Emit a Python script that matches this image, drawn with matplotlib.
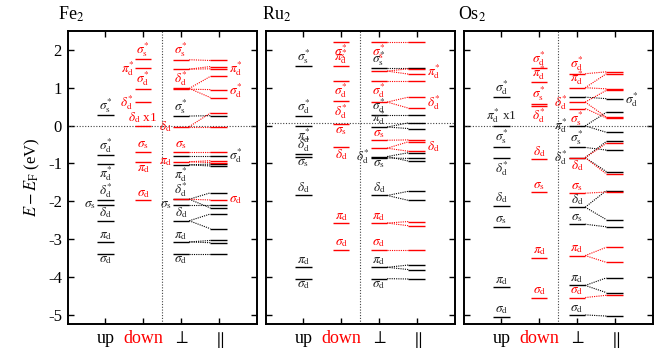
import matplotlib.pyplot as plt

plt.rcParams['font.family'] = 'serif'
plt.rcParams['font.serif'] = ['Liberation Serif', 'DejaVu Serif']
plt.rcParams['mathtext.fontset'] = 'stix'

RED = '#ff0000'
INK = '#222222'

titles = ['Fe$_2$', 'Ru$_2$', 'Os$_2$']
col_names = ['up', 'down', r'$\perp$', r'$\parallel$']
col_colors = ['black', RED, 'black', 'black']
y_ticks = [-5, -4, -3, -2, -1, 0, 1, 2]
fermi = [0.0, 0.06, 0.0]

# levels: (energy, label, where the label goes)
fe_up = [(0.27, 'ss*', 'a'), (-0.79, 'sd*', 'a'), (-1.02, 'pd*', 'b'), (-1.98, 'dd*', 'a'),
         (-2.10, 'ss', 'l'), (-2.52, 'dd', 'a'), (-3.08, 'pd', 'a'), (-3.40, 'sd', 'b')]
fe_down = [(1.76, 'ss*', 'a'), (1.52, 'pd*', 'l'), (0.97, 'sd*', 'a'), (0.62, 'dd*', 'l'),
           (0.0, 'dd x1', 'a'), (-0.69, 'ss', 'a'), (-0.97, 'pd', 'b'), (-1.98, 'sd', 'a')]
fe_perp_up = [(0.25, 'ss*', 'a'), (-0.80, '', ''), (-1.04, 'pd*', 'b'), (-1.95, 'dd*', 'a'),
              (-2.11, 'ss', 'l'), (-2.52, 'dd', 'a'), (-3.08, 'pd', 'a'), (-3.40, 'sd', 'b')]
fe_perp_dn = [(1.74, 'ss*', 'a'), (1.49, '', ''), (0.98, 'dd*', 'a'), (0.96, '', ''),
              (-0.03, 'dd', 'l'), (-0.69, 'ss', 'a'), (-0.96, 'pd', 'l'), (-1.95, '', '')]
# perp -> parallel splitting: (E_perp, E_par)
fe_link_up = [(0.25, 0.26), (-0.80, -0.80), (-1.04, -1.02), (-1.04, -1.07), (-1.95, -1.78),
              (-1.95, -2.18), (-2.11, -2.11), (-2.52, -2.34), (-2.52, -2.73), (-3.08, -3.04),
              (-3.08, -3.10), (-3.40, -3.40)]
fe_link_dn = [(1.74, 1.72), (1.49, 1.56), (1.49, 1.50), (0.98, 1.30), (0.98, 0.74), (0.96, 0.95),
              (-0.03, 0.33), (-0.03, -0.03), (-0.69, -0.69), (-0.96, -0.93), (-0.96, -0.98),
              (-1.95, -1.97)]
fe_par_tags = [(1.50, 'pd*', RED), (0.93, 'sd*', RED), (-0.80, 'sd*', INK), (-1.97, 'sd', RED)]

ru_up = [(1.57, 'ss*', 'a'), (0.25, 'sd*', 'a'), (0.0, 'pd*', 'b'), (-0.76, 'dd*', 'a'),
         (-0.83, 'ss', 'b'), (-1.85, 'dd', 'a'), (-3.75, 'pd', 'a'), (-4.05, 'sd', 'b')]
ru_down = [(2.22, 'ss*', 'b'), (1.57, 'pd*', 'a'), (1.19, 'sd*', 'b'), (0.64, 'dd*', 'b'),
           (0.03, 'ss', 'b'), (-0.56, 'dd', 'b'), (-2.58, 'pd', 'a'), (-3.28, 'sd', 'a')]
ru_perp_up = [(1.52, 'ss*', 'a'), (0.27, 'sd*', 'a'), (-0.04, 'pd*', 'a'), (-0.82, 'dd*', 'l'),
              (-0.86, 'ss', 'b'), (-1.85, 'dd', 'a'), (-3.75, 'pd', 'a'), (-4.05, 'sd', 'b')]
ru_perp_dn = [(2.20, 'ss*', 'b'), (1.44, '', ''), (1.18, 'sd*', 'b'), (0.62, '', ''),
              (-0.39, 'ss', 'a'), (-0.60, '', ''), (-2.58, 'pd', 'a'), (-3.28, 'sd', 'a')]
ru_link_up = [(1.52, 1.52), (0.27, 0.27), (-0.04, 0.07), (-0.04, -0.08), (-0.82, -0.72),
              (-0.82, -0.94), (-0.86, -0.87), (-1.85, -1.74), (-1.85, -1.98), (-3.75, -3.69),
              (-3.75, -3.81), (-4.05, -4.06)]
ru_link_dn = [(2.20, 2.20), (1.44, 1.50), (1.44, 1.36), (1.18, 1.18), (0.62, 0.75), (0.62, 0.46),
              (-0.39, -0.38), (-0.60, -0.43), (-0.60, -0.68), (-2.58, -2.54), (-2.58, -2.65),
              (-3.28, -3.28)]
ru_par_tags = [(1.42, 'pd*', RED), (0.60, 'dd*', RED), (-0.55, 'dd', RED)]

os_up = [(0.75, 'sd*', 'a'), (0.0, 'pd* x1', 'a'), (-0.56, 'ss*', 'a'), (-0.87, 'dd*', 'b'),
         (-2.12, 'dd', 'a'), (-2.68, 'ss', 'a'), (-4.27, 'pd', 'a'), (-5.06, 'sd', 'a')]
os_down = [(1.52, 'sd*', 'a'), (1.15, 'pd*', 'a'), (0.58, 'ss*', 'a'), (0.52, 'dd*', 'b'),
           (-0.89, 'dd', 'a'), (-1.77, 'ss', 'a'), (-3.50, 'pd', 'a'), (-4.55, 'sd', 'a')]
os_perp_up = [(0.75, '', ''), (-0.01, 'pd*', 'l'), (-0.58, 'ss*', 'a'), (-0.85, 'dd*', 'l'),
              (-2.16, 'dd', 'a'), (-2.61, 'ss', 'a'), (-4.23, 'pd', 'a'), (-5.01, 'sd', 'a')]
os_perp_dn = [(1.37, 'sd*', 'a'), (1.00, 'pd*', 'a'), (0.62, 'dd*', 'l'), (0.45, 'ss*', 'b'),
              (-0.85, 'dd', 'b'), (-1.79, 'ss', 'a'), (-3.44, 'pd', 'a'), (-4.55, 'sd', 'a')]
os_link_up = [(0.75, 0.71), (-0.01, 0.35), (-0.01, -0.18), (-0.58, -0.65), (-0.85, -0.42),
              (-0.85, -1.22), (-2.16, -1.72), (-2.16, -2.49), (-2.61, -2.68), (-4.23, -4.03),
              (-4.23, -4.42), (-5.01, -5.04)]
os_link_dn = [(1.37, 1.42), (1.00, 1.37), (1.00, 0.97), (0.62, 0.93), (0.62, 0.22), (0.45, 0.20),
              (-0.85, -0.47), (-0.85, -1.28), (-1.79, -1.76), (-3.44, -3.22), (-3.44, -3.62),
              (-4.55, -4.49)]
os_par_tags = [(0.70, 'sd*', INK)]

panels = [
    (fe_up, fe_down, fe_perp_up, fe_perp_dn, fe_link_up, fe_link_dn, fe_par_tags),
    (ru_up, ru_down, ru_perp_up, ru_perp_dn, ru_link_up, ru_link_dn, ru_par_tags),
    (os_up, os_down, os_perp_up, os_perp_dn, os_link_up, os_link_dn, os_par_tags),
]

GREEK = {'s': r'\sigma', 'p': r'\pi', 'd': r'\delta'}
HALF = 0.22


def label_text(code):
    extra = ''
    if ' ' in code:
        code, extra = code.split(' ', 1)
        extra = ' ' + extra
    star = '^{*}' if code.endswith('*') else ''
    return r'$%s_{\rm %s}%s$%s' % (GREEK[code[0]], code[1], star, extra)


def draw_level(ax, x, e, color):
    ax.plot([x - HALF, x + HALF], [e, e], color=color, lw=1.0, solid_capstyle='butt')


def draw_tag(ax, x, e, code, where, color):
    if not code:
        return
    txt = label_text(code)
    kw = dict(color=color, fontsize=9.5)
    if where == 'a':
        ax.text(x, e + 0.01, txt, ha='center', va='bottom', **kw)
    elif where == 'b':
        ax.text(x, e - 0.01, txt, ha='center', va='top', **kw)
    elif where == 'l':
        ax.text(x - HALF - 0.02, e, txt, ha='right', va='center', **kw)
    else:
        ax.text(x + HALF + 0.05, e, txt, ha='left', va='center', **kw)


fig = plt.figure(figsize=(6.59, 3.5), dpi=100)
lefts = [67.5, 265.5, 463.5]
title_dx = [-0.05, -0.02, -0.03]

for i, (up, down, pu, pd, lu, ld, tags) in enumerate(panels):
    ax = fig.add_axes([lefts[i] / 659, 26 / 350, 189 / 659, 293 / 350])

    ax.axhline(fermi[i], color='#444444', lw=0.8, ls=(0, (1, 1.5)))
    ax.axvline(2.5, color='#444444', lw=0.8, ls=(0, (1, 1.5)))

    for e, code, where in up:
        draw_level(ax, 1, e, 'black')
        draw_tag(ax, 1, e, code, where, INK)
    for e, code, where in down:
        draw_level(ax, 2, e, RED)
        draw_tag(ax, 2, e, code, where, RED)
    for e, code, where in pu:
        draw_level(ax, 3, e, 'black')
        draw_tag(ax, 3, e, code, where, INK)
    for e, code, where in pd:
        draw_level(ax, 3, e, RED)
        draw_tag(ax, 3, e, code, where, RED)

    for links, color in [(lu, 'black'), (ld, RED)]:
        for ep, eq in links:
            ax.plot([3 + HALF, 4 - HALF], [ep, eq], color=color, lw=0.8, ls=(0, (1, 1)))
        for eq in sorted(set(q for _, q in links)):
            draw_level(ax, 4, eq, color)

    for e, code, color in tags:
        draw_tag(ax, 4, e, code, 'r', color)

    ax.set_xlim(0, 5)
    ax.set_ylim(-5.25, 2.5)
    ax.set_xticks([1, 2, 3, 4])
    ax.set_xticklabels(col_names, fontsize=13)
    for lab, c in zip(ax.get_xticklabels(), col_colors):
        lab.set_color(c)
    ax.set_yticks(y_ticks)
    ax.tick_params(direction='in', top=True, right=True, length=4, width=1.0, pad=4)
    if i == 0:
        ax.set_yticklabels([str(t) for t in y_ticks], fontsize=12)
        ax.set_ylabel(r'$E - E_{\rm F}$ (eV)', fontsize=12)
    else:
        ax.set_yticklabels([])
    for sp in ax.spines.values():
        sp.set_linewidth(1.4)

    ax.text(title_dx[i], 1.025, titles[i], transform=ax.transAxes,
            ha='left', va='bottom', fontsize=13)

fig.savefig('out.png', dpi=100)
